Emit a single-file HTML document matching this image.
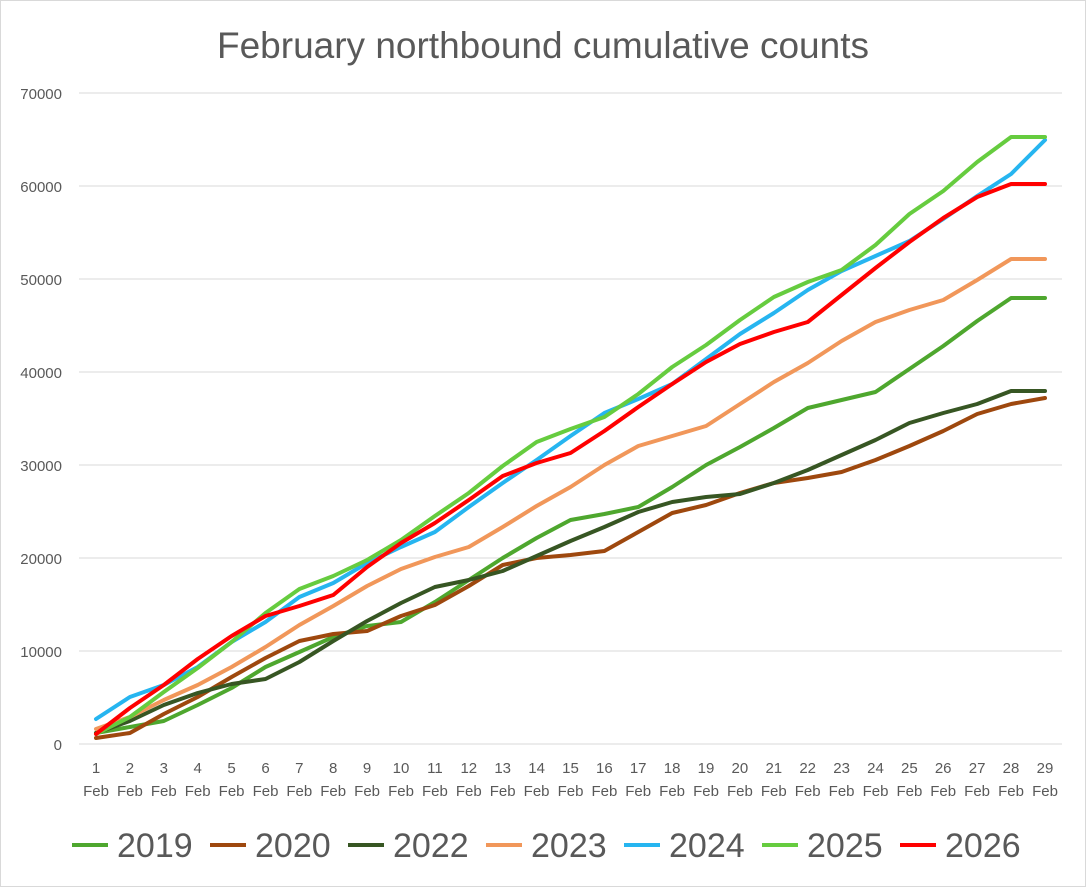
<!DOCTYPE html>
<html><head><meta charset="utf-8">
<style>
html,body{margin:0;padding:0;background:#fff;}
svg{display:block;font-family:"Liberation Sans",sans-serif;}
</style></head>
<body>
<svg id="c" width="1086" height="887" viewBox="0 0 1086 887" xmlns="http://www.w3.org/2000/svg">
<rect x="0.5" y="0.5" width="1085" height="886" fill="#fff" stroke="#d9d9d9"/>
<text x="543" y="58" text-anchor="middle" font-size="37" fill="#595959">February northbound cumulative counts</text>
<g stroke="#d9d9d9" stroke-width="1">
<line x1="79" x2="1062" y1="93" y2="93"/><line x1="79" x2="1062" y1="186" y2="186"/>
<line x1="79" x2="1062" y1="279" y2="279"/><line x1="79" x2="1062" y1="372" y2="372"/>
<line x1="79" x2="1062" y1="465" y2="465"/><line x1="79" x2="1062" y1="558" y2="558"/>
<line x1="79" x2="1062" y1="651" y2="651"/><line x1="79" x2="1062" y1="744" y2="744"/>
</g>
<g font-size="15" fill="#595959" text-anchor="end">
<text x="62" y="99">70000</text><text x="62" y="192">60000</text><text x="62" y="285">50000</text>
<text x="62" y="378">40000</text><text x="62" y="471">30000</text><text x="62" y="564">20000</text>
<text x="62" y="657">10000</text><text x="62" y="750">0</text>
</g>
<g font-size="15" fill="#595959" text-anchor="middle">
<text x="96" y="773">1</text><text x="129.9" y="773">2</text><text x="163.8" y="773">3</text><text x="197.7" y="773">4</text><text x="231.6" y="773">5</text><text x="265.5" y="773">6</text><text x="299.3" y="773">7</text><text x="333.2" y="773">8</text><text x="367.1" y="773">9</text><text x="401" y="773">10</text><text x="434.9" y="773">11</text><text x="468.8" y="773">12</text><text x="502.7" y="773">13</text><text x="536.6" y="773">14</text><text x="570.5" y="773">15</text><text x="604.4" y="773">16</text><text x="638.2" y="773">17</text><text x="672.1" y="773">18</text><text x="706" y="773">19</text><text x="739.9" y="773">20</text><text x="773.8" y="773">21</text><text x="807.7" y="773">22</text><text x="841.6" y="773">23</text><text x="875.5" y="773">24</text><text x="909.4" y="773">25</text><text x="943.2" y="773">26</text><text x="977.1" y="773">27</text><text x="1011" y="773">28</text><text x="1045" y="773">29</text>
<text x="96" y="796">Feb</text><text x="129.9" y="796">Feb</text><text x="163.8" y="796">Feb</text><text x="197.7" y="796">Feb</text><text x="231.6" y="796">Feb</text><text x="265.5" y="796">Feb</text><text x="299.3" y="796">Feb</text><text x="333.2" y="796">Feb</text><text x="367.1" y="796">Feb</text><text x="401" y="796">Feb</text><text x="434.9" y="796">Feb</text><text x="468.8" y="796">Feb</text><text x="502.7" y="796">Feb</text><text x="536.6" y="796">Feb</text><text x="570.5" y="796">Feb</text><text x="604.4" y="796">Feb</text><text x="638.2" y="796">Feb</text><text x="672.1" y="796">Feb</text><text x="706" y="796">Feb</text><text x="739.9" y="796">Feb</text><text x="773.8" y="796">Feb</text><text x="807.7" y="796">Feb</text><text x="841.6" y="796">Feb</text><text x="875.5" y="796">Feb</text><text x="909.4" y="796">Feb</text><text x="943.2" y="796">Feb</text><text x="977.1" y="796">Feb</text><text x="1011" y="796">Feb</text><text x="1045" y="796">Feb</text>
</g>
<g id="series" fill="none" stroke-width="4" stroke-linejoin="round" stroke-linecap="round"></g>
<g stroke-width="4">
<line x1="72" x2="108" y1="845" y2="845" stroke="#4ea72e"/>
<line x1="210" x2="246" y1="845" y2="845" stroke="#9e480e"/>
<line x1="348" x2="384" y1="845" y2="845" stroke="#375623"/>
<line x1="486" x2="522" y1="845" y2="845" stroke="#f1975a"/>
<line x1="624" x2="660" y1="845" y2="845" stroke="#26b5f0"/>
<line x1="762" x2="798" y1="845" y2="845" stroke="#66cc3f"/>
<line x1="900" x2="936" y1="845" y2="845" stroke="#ff0000"/>
</g>
<g font-size="34" fill="#595959">
<text x="117" y="857">2019</text><text x="255" y="857">2020</text><text x="393" y="857">2022</text>
<text x="531" y="857">2023</text><text x="669" y="857">2024</text><text x="807" y="857">2025</text><text x="945" y="857">2026</text>
</g>
</svg>
<script>
var S=[
["#4ea72e",[733,727,721,705,688,667,652,637,626,622,602,580,558,538,520,514,507,487,465,447,428,408,400,392,369,346,321,298,298]],
["#9e480e",[738,733,714,697,677,658,641,634,631,616,605,586,565,558,555,551,532,513,505,493,483,478,472,460,446,431,414,404,398]],
["#375623",[733,721,705,693,684,679,662,641,621,603,587,580,571,556,541,527,512,502,497,494,483,470,455,440,423,413,404,391,391]],
["#f1975a",[729,717,700,685,667,647,625,606,586,569,557,547,527,506,487,465,446,436,426,404,382,363,341,322,310,300,280,259,259]],
["#26b5f0",[719,697,685,667,642,622,597,583,563,547,532,507,483,460,436,413,399,384,359,334,313,290,271,256,241,219,196,174,140]],
["#66cc3f",[734,717,692,668,642,613,589,576,560,540,516,493,466,442,429,417,394,367,345,320,297,282,270,245,214,191,162,137,137]],
["#ff0000",[734,708,685,659,636,616,606,595,567,543,523,500,476,463,453,431,407,384,362,344,332,322,295,268,242,218,197,184,184]]
];
var g=document.getElementById("series");
S.forEach(function(s){var p=s[1].map(function(y,i){return (96+i*33.893).toFixed(1)+","+y}).join(" ");
var e=document.createElementNS("http://www.w3.org/2000/svg","polyline");e.setAttribute("points",p);e.setAttribute("stroke",s[0]);g.appendChild(e);});
</script>
</body></html>
